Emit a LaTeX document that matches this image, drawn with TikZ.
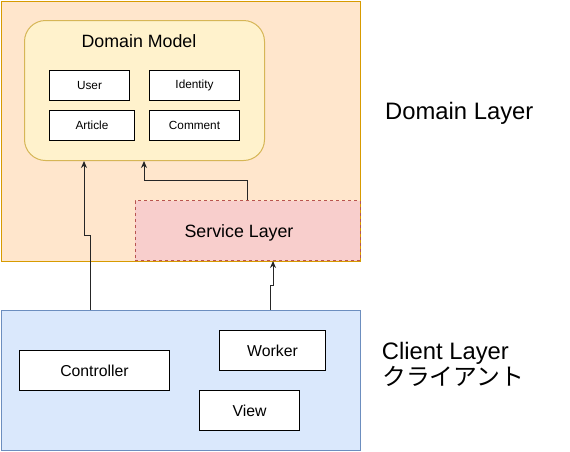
\documentclass[tikz,border=0pt]{standalone}
\usepackage{fontspec}
\setmainfont{Liberation Sans}
\newfontfamily\cjk{Noto Sans CJK JP}
\usetikzlibrary{arrows.meta}
\definecolor{dlfill}{HTML}{FFE6CC}\definecolor{dlline}{HTML}{D79B00}
\definecolor{dmfill}{HTML}{FFF2CC}\definecolor{dmline}{HTML}{D6B656}
\definecolor{slfill}{HTML}{F8CECC}\definecolor{slline}{HTML}{B85450}
\definecolor{clfill}{HTML}{DAE8FC}\definecolor{clline}{HTML}{6C8EBF}
\tikzset{
  box/.style={draw, line width=1pt, inner sep=0pt, anchor=north west, align=center},
  small/.style={box, fill=white, minimum height=30pt, font=\fontsize{11.8}{13}\selectfont},
  mid/.style={box, fill=white, minimum height=40pt, font=\fontsize{15.8}{18}\selectfont},
  big/.style={font=\fontsize{23.8}{27}\selectfont, inner sep=0pt},
  arr/.style={draw=black!85, line width=1pt, -{Stealth[length=7pt,width=6pt]}},
}
\begin{document}
\begin{tikzpicture}[x=1pt,y=-1pt]
\useasboundingbox (0,0) rectangle (570,451);
% Domain layer
\node[box, draw=dlline, fill=dlfill, minimum width=359pt, minimum height=260pt] (dl) at (0.5,0.5) {};
\node[box, draw=dmline, fill=dmfill, rounded corners=21pt, minimum width=240pt, minimum height=140pt] (dm) at (24,20) {};
\node[anchor=base, inner sep=0pt, font=\fontsize{17.8}{20}\selectfont] (dmt) at (139,47.5) {Domain Model};
\node[small, minimum width=80pt] (user) at (49,70) {User};
\node[small, minimum width=90pt] (ident) at (149,70) {Identity};
\node[small, minimum width=85pt] (art) at (49,110) {Article};
\node[small, minimum width=90pt] (comm) at (149,110) {Comment};
\node[box, draw=slline, fill=slfill, dash pattern=on 3pt off 3pt, minimum width=225pt, minimum height=60pt] (sl) at (134.5,200) {};
\node[anchor=base, inner sep=0pt, font=\fontsize{17.8}{20}\selectfont] (slt) at (239,237) {Service Layer};
% Client layer
\node[box, draw=clline, fill=clfill, minimum width=359pt, minimum height=140pt] (cl) at (0.5,310) {};
\node[mid, minimum width=150pt] (ctrl) at (19,350) {Controller};
\node[mid, minimum width=106pt] (work) at (219,330) {Worker};
\node[mid, minimum width=100pt] (view) at (199,390) {View};
% labels
\node[big, anchor=base west] (dlt) at (385,119.3) {Domain Layer};
\node[big, anchor=base west] (clt) at (381.7,359.3) {Client Layer};
\node[big, anchor=base west] (clj) at (382,385) {\cjk クライアント};
% connectors
\coordinate (p1) at (90,0);
\coordinate (p2) at (84,0);
\coordinate (p3) at (270,0);
\coordinate (p4) at (273,0);
\coordinate (p5) at (247,0);
\coordinate (p6) at (144,0);
\draw[arr] (cl.north -| p1) |- (84,235) -- (dm.south -| p2);
\draw[arr] (cl.north -| p3) |- (273,285) -- (sl.south -| p4);
\draw[arr] (sl.north -| p5) |- (144,180) -- (dm.south -| p6);
\end{tikzpicture}
\end{document}
